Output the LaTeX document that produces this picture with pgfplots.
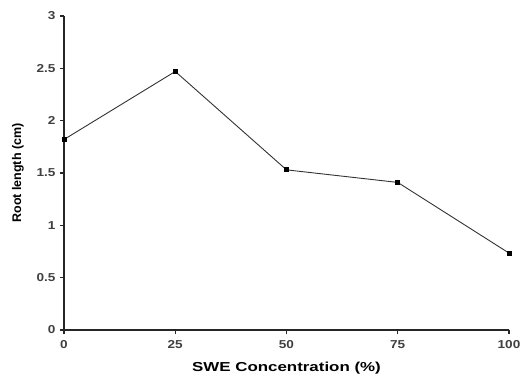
\documentclass[border=0pt]{standalone}
\usepackage{pgfplots}
\pgfplotsset{compat=1.18}
\usepackage{fontspec}
\setmainfont{Liberation Sans}
\newfontfamily\chartfont[FakeStretch=1.18]{Liberation Sans}
\newfontfamily\labfont[FakeStretch=1.3]{Liberation Sans}
\begin{document}
\begin{tikzpicture}
\begin{axis}[
  name=ax,
  scale only axis,
  width=445pt, height=314pt,
  xmin=0, xmax=100, ymin=0, ymax=3,
  axis x line=bottom, axis y line=left,
  axis line style={line width=1.4pt, black!85, -},
  xtick={0,25,50,75,100},
  ytick={0,0.5,1,1.5,2,2.5,3},
  yticklabels={0,0.5,1,1.5,2,2.5,3},
  xticklabels={0,25,50,75,100},
  tick align=outside,
  major tick length=4pt,
  tick style={line width=1.2pt, black!85},
  ticklabel style={font=\chartfont\bfseries\fontsize{11.5}{13}\selectfont, text=black!75},
  xticklabel style={yshift=-3pt},
  yticklabel style={xshift=-1pt},
  xlabel={\labfont\bfseries\fontsize{13}{15}\selectfont SWE Concentration (\%)},
  ylabel={\bfseries\fontsize{12.5}{14}\selectfont Root length (cm)},
  xlabel style={yshift=-7pt},
  ylabel style={yshift=6pt},
  clip=false,
]
\addplot[black!80, line width=0.9pt, mark=square*, mark size=2pt, mark options={fill=black, draw=black}]
coordinates {(0,1.82) (25,2.47) (50,1.53) (75,1.41) (100,0.735)};
\end{axis}
\path ([xshift=-64pt,yshift=-47pt]ax.south west) rectangle ([xshift=22pt,yshift=16pt]ax.north east);
\end{tikzpicture}
\end{document}
